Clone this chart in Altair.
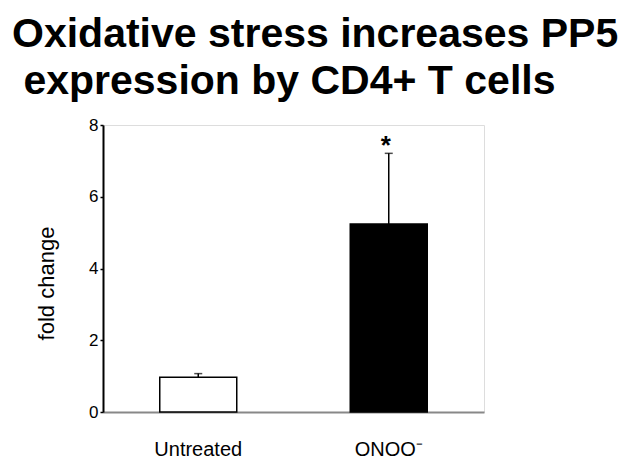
import altair as alt
import pandas as pd

groups = ["Untreated", "ONOO⁻"]
means = [0.97, 5.24]
errs = [0.10, 1.97]
marks = ["", "*"]
fills = ["white", "black"]

df = pd.DataFrame({
    "group": groups,
    "mean": means,
    "top": [m + e for m, e in zip(means, errs)],
    "sig": marks,
    "fill": fills,
})

x = alt.X("group:N", sort=groups, title=None,
          scale=alt.Scale(paddingInner=0, paddingOuter=0),
          axis=alt.Axis(labelAngle=0, labelFontSize=20, labelFont="Liberation Sans",
                        labelColor="black", labelPadding=27, ticks=False,
                        domainColor="#888888", domainWidth=2))
y_scale = alt.Scale(domain=[0, 8], nice=False)

bars = alt.Chart(df).mark_bar(size=77, stroke="black", strokeWidth=1.5).encode(
    x=x,
    y=alt.Y("mean:Q", scale=y_scale, title="fold change",
            axis=alt.Axis(values=[0, 1, 2, 3, 4, 5, 6, 7, 8],
                          labelExpr="datum.value % 2 == 0 ? datum.label : ''",
                          labelFontSize=17, labelFont="Liberation Sans", labelColor="black",
                          labelPadding=2, tickSize=3, tickColor="black", tickWidth=1.5,
                          domainColor="black", domainWidth=2, grid=False,
                          titleFontSize=22, titleFont="Liberation Sans", titleFontWeight="normal",
                          titleColor="black", titleAngle=-90, titleAlign="center",
                          titleBaseline="middle", titleX=-57, titleY=158)),
    fill=alt.Fill("fill:N", scale=None),
)

err = alt.Chart(df).mark_rule(color="black", strokeWidth=1.5).encode(
    x=alt.X("group:N", sort=groups),
    y=alt.Y("mean:Q", scale=y_scale),
    y2="top:Q",
)
cap = alt.Chart(df).mark_tick(color="black", thickness=1.5, size=8, orient="horizontal").encode(
    x=alt.X("group:N", sort=groups),
    y=alt.Y("top:Q", scale=y_scale),
)
star = alt.Chart(df).mark_text(fontSize=26, fontWeight="bold", font="Liberation Sans",
                               baseline="middle", dy=-7, dx=-3, color="black").encode(
    x=alt.X("group:N", sort=groups),
    y=alt.Y("top:Q", scale=y_scale),
    text="sig:N",
)

chart = alt.layer(bars, err, cap, star).properties(
    width=381, height=287,
    title=alt.Title(["Oxidative stress  increases PP5", "\u200b\u00a0expression by CD4+ T cells"],
                    anchor="start", frame="group", dx=-91, offset=13,
                    fontSize=41, font="Liberation Sans", fontWeight="bold",
                    color="black", lineHeight=47),
    padding={"left": 95, "top": 117, "right": 140, "bottom": 49},
    autosize=alt.AutoSizeParams(type="none"),
).configure_view(stroke="#8c8c8c", strokeWidth=2).configure(background="white")

chart.save("out.html", embed_options={"renderer": "svg", "actions": False})
